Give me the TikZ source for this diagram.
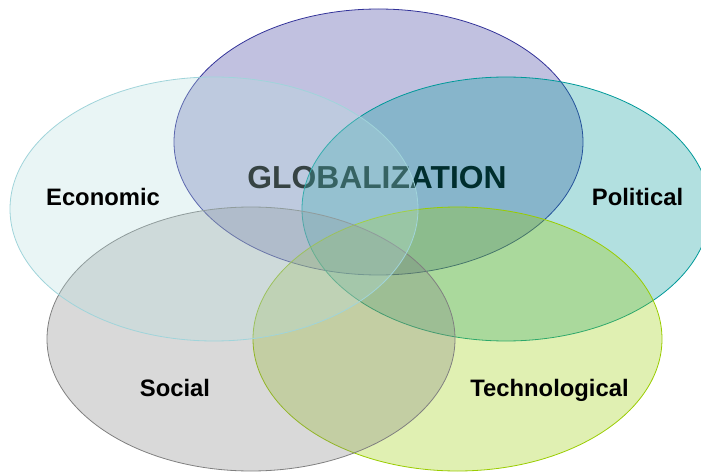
\documentclass[tikz,border=0pt]{standalone}
\usepackage{fontspec}
\setmainfont{Liberation Sans}
\definecolor{cPur}{RGB}{51,51,153}
\definecolor{cEco}{RGB}{182,222,222}
\definecolor{cEcoE}{RGB}{160,212,218}
\definecolor{cPol}{RGB}{0,153,153}
\definecolor{cSoc}{RGB}{128,128,128}
\definecolor{cTec}{RGB}{153,204,0}
\begin{document}
\begin{tikzpicture}[x=1pt,y=-1pt,
  blob/.style={fill opacity=0.3, draw opacity=1, line width=0.8pt},
  lab/.style={font=\fontsize{23.8}{26}\selectfont\bfseries, text=black, inner sep=0pt},
  title/.style={font=\fontsize{31.8}{34}\selectfont\bfseries, text=black, inner sep=0pt}]
\useasboundingbox (0,0) rectangle (701,473);
\begin{scope}
\clip (0,0) rectangle (701,473);
\path[blob, fill=cPur, draw=cPur] (378.5,142) ellipse [x radius=204.5, y radius=133];
\node[title, anchor=base] (glob) at (377,189) {GLOBALIZATION};
\path[blob, fill=cPol, draw=cPol] (506,209) ellipse [x radius=204, y radius=132];
\path[blob, fill=cTec, draw=cTec] (457.5,339) ellipse [x radius=204.5, y radius=132];
\path[blob, fill=cSoc, draw=cSoc] (251,339) ellipse [x radius=204, y radius=132];
\path[blob, fill=cEco, draw=cEcoE] (214,209) ellipse [x radius=204, y radius=132];
\end{scope}
\node[lab, anchor=base] (eco) at (103,206) {Economic};
\node[lab, anchor=base] (pol) at (637.5,205) {Political};
\node[lab, anchor=base] (soc) at (175,396) {Social};
\node[lab, anchor=base] (tec) at (549.5,396) {Technological};
\end{tikzpicture}
\end{document}
